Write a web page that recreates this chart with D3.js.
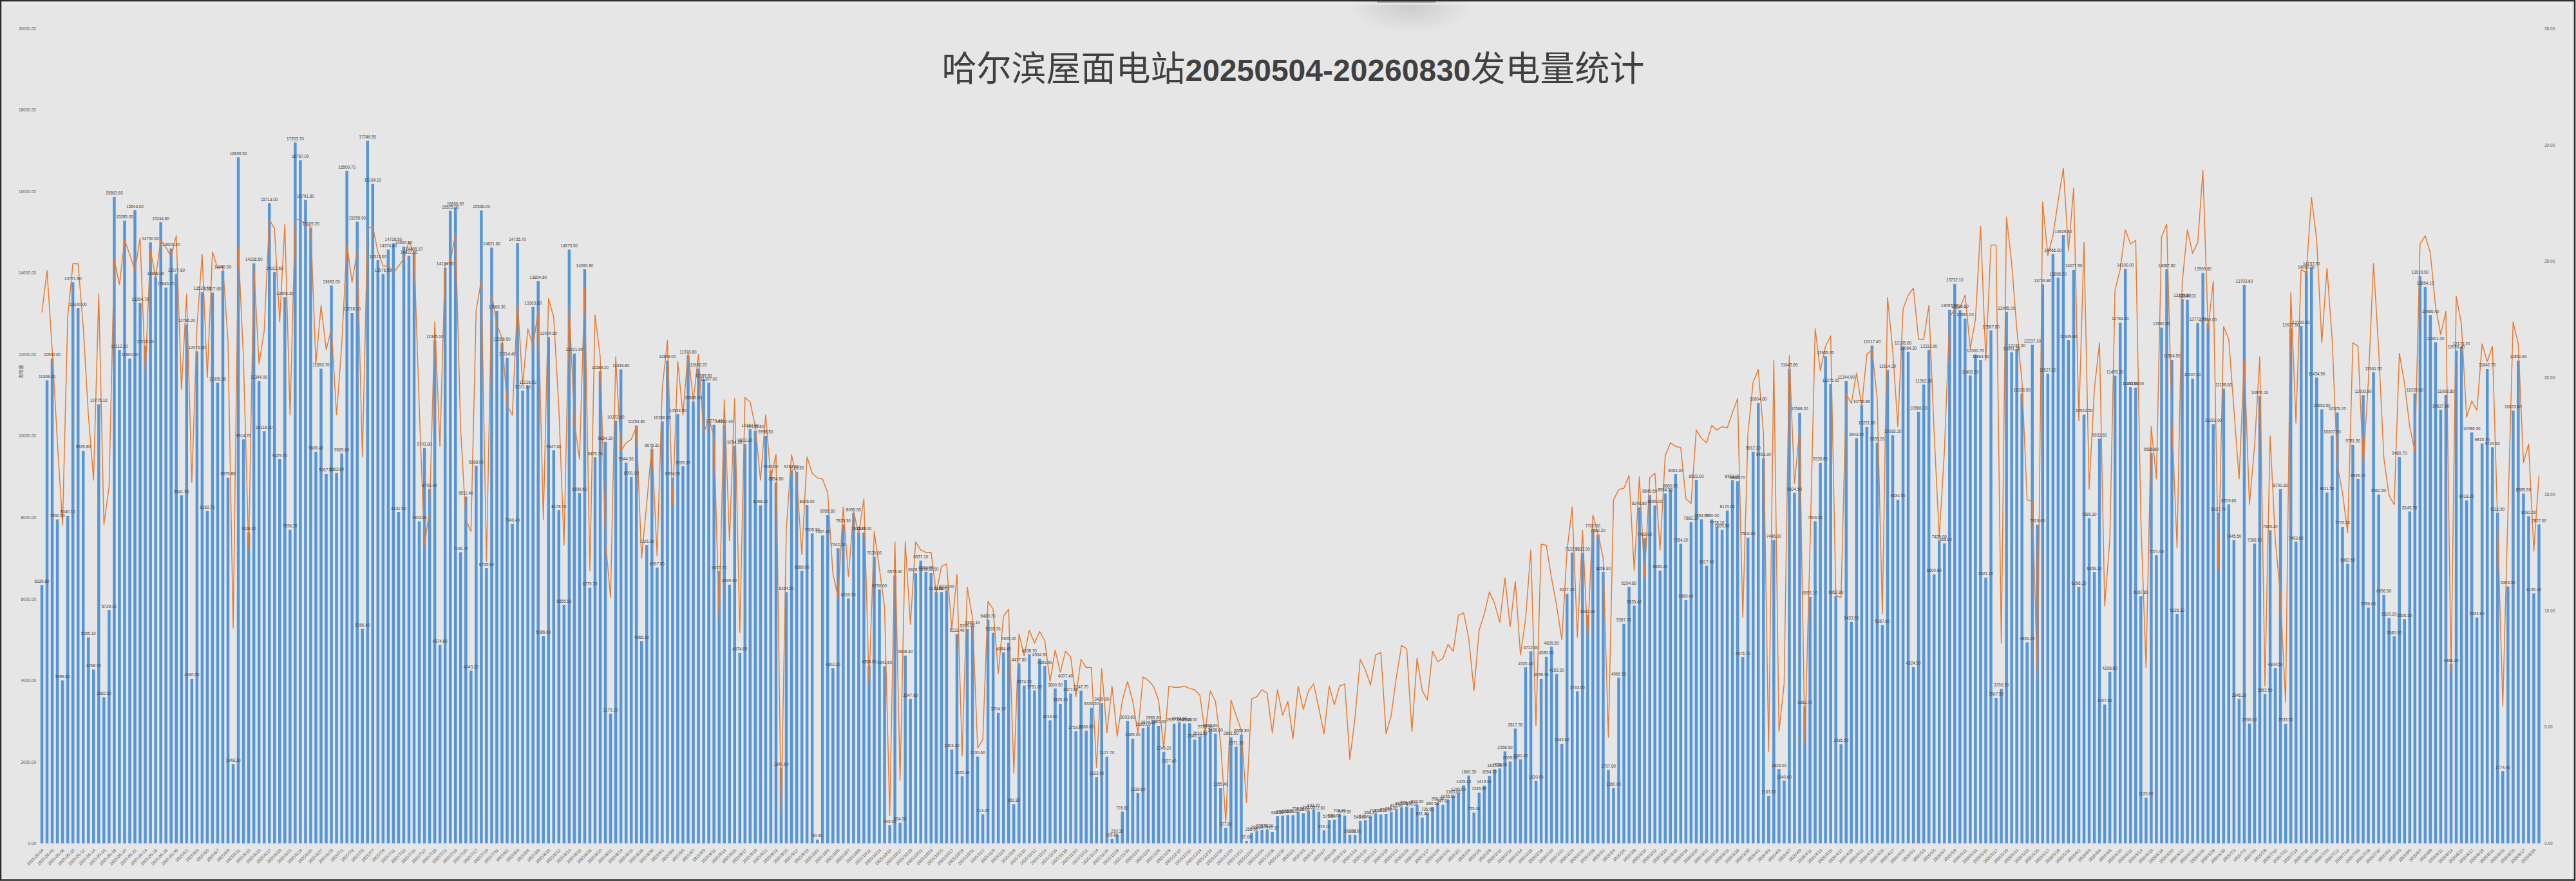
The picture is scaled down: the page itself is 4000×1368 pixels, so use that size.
<!DOCTYPE html>
<html>
<head>
<meta charset="utf-8">
<script src="https://cdnjs.cloudflare.com/ajax/libs/d3/7.8.5/d3.min.js"></script>
<style>
  html, body { margin: 0; padding: 0; background: #e6e6e6; }
  svg { display: block; }
</style>
</head>
<body>
<svg class="chart"></svg>
<script>
var titleParts = ["哈尔滨屋面电站", "20250504-20260830", "发电量统计"];
var axisName = "发电量";

var firstDay = new Date(2025, 4, 4);
var lastDay = new Date(2026, 7, 30);

var leftTicks = [0, 2000, 4000, 6000, 8000, 10000, 12000, 14000, 16000, 18000, 20000];
var rightTicks = [0, 5, 10, 15, 20, 25, 30, 35];

// daily output
var output = [
  6339.8,11368,11900,7950.5,3999.8,8040.1,13771.9,13140,9635.8,5055.1,
  4268.2,10775.1,3582.5,5729.1,15863.6,12112.1,15285,11900,15543,13264.7,
  12215,14750.6,13899,15244.8,13640.2,14600.2,13977.6,8541.5,12736.2,4040.5,
  12076.5,13524.7,8162.7,13517.6,11305.3,14049.9,8975.8,1948.2,16839.5,9914.7,
  7628.3,14236.5,11344.9,10118,15713,14022.6,9429.2,13406.3,7696.2,17203.7,
  16767,15791.8,15109.2,9608.4,11650.7,9067.5,13692,9093.6,9569.6,16509.7,
  13018.1,15255.9,5266.4,17246.5,16184.1,14313.6,13976.5,14574.4,14728.5,8131.5,
  14650,14422.9,14495.1,7903.6,9703.8,8701.4,12345.1,4874.6,14124.5,15525,
  15606.5,7146.7,8511.4,4243.2,9268,15536,6755.9,14621.6,13066.3,12286.5,
  11914.4,7840.4,14735.7,11111.8,11216.6,13163.8,13804.6,5086.6,12424.6,9647.6,
  8178.7,5855.5,14573.5,12021.9,8596.6,14090.8,6275.2,9475.7,11589.2,9854.3,
  3179.2,10372.6,11633.8,9344.3,8991,10254.8,4965.6,7326.3,9675.3,6767.5,
  10356.5,11849,8974,10533.5,9255.3,11970.8,10845.5,11650.2,11389.5,11307,
  10270.4,6677.7,10262.4,6349.6,9754.2,4674.6,9803.2,10167,10128.8,8298.2,
  9998.5,9149,8854.8,1847.6,6164.5,9157.1,9118.5,6688,8306,7608.3,
  90.3,7557.4,8056.6,4302.2,7242.2,7825.3,6010.3,8099,7635,7631,
  4358,7035,6230,4343.6,445,6573.4,504,4608.3,3547.6,6628.7,
  6937.1,6664.6,6632.9,6170.6,6168.4,6210,2303.3,5132.4,1645.3,5255.9,
  5330.1,2130.6,713.2,5489.7,5165.7,3204.1,4684.4,4926,961.8,4417.8,
  3874.2,4638.7,3751.6,4534.5,4353.9,3019.6,3800.5,3425.2,4007.4,3677.6,
  2753.9,3747.7,2766,3330.5,1623.5,3439,2127.7,105.6,210.3,776.6,
  3003.6,2569.3,1239.6,2829,2874,2985.6,2885,2245.2,1927.4,2937,
  2973,2940,2945,2545.1,2610.5,2773.3,2805.6,2688.6,1355.4,377.8,
  2601.5,2371.3,2669.8,57.6,258.9,298,325,330,277.1,668.5,
  680,690,690,758,738,795,833.7,772.6,319.1,575.9,
  580,708.7,679.3,208,208,548.6,570,656.3,718,710,
  720,765,832,885,900,870,933.5,631.4,735.5,890.5,
  990,947,1056.5,1163,1240.5,1425.4,1660.3,755,1245.9,1419,
  1654.3,1817,1838,2258.5,2009,2817.3,2061.4,4320.4,4712.6,1530,
  4039.7,4580,4826.5,4153.3,2443.6,6127.2,7133.5,3733.5,7122,5602,
  7700,7582.2,6659.3,1797.8,1360,4066.5,5387.7,6294.8,5835.4,8246.8,
  7492,8549.5,8296,6695.4,8584.5,8680.5,9063.3,7354.2,5969.4,7882.3,
  8922,7953,6817,7950,7778.1,7695.5,8170,8918,8886.7,4575.7,
  7504.6,9612.2,10804.8,9453.3,1163,7446,1825,1540.6,11643.8,8604.5,
  10568,3362.7,6051.1,7906.5,9335.8,11955.2,11275,6062.8,2435.5,11344.9,
  5433.5,9943.5,10756.8,10221.6,12217.4,9835.2,5357.6,11614.2,10018.1,8434.5,
  12185.8,12064.3,4324.5,10586.2,11262.8,12113.9,6600.6,7425,7365,13097.5,
  13732.1,13086.8,12881,11483.5,12000.7,11863.5,6521.2,12587.8,3567.5,3790.1,
  13045,12051.2,12132.3,11038.5,4933.2,12237.1,7819.6,13724.8,11527,14466,
  13885.2,14929.8,12349.8,14077.5,6296.2,10524.5,7980.3,6659.1,9933.6,3407.8,
  4208.8,11478.3,12783.2,14100,11195,11185,6067.8,1120,9586.6,7071,
  12660.3,14087.8,11864.5,5635.3,13359.8,13340,11407.2,12772.7,13999.8,12760,
  10291,8107.7,11158.6,8319.6,7445.5,3546.2,13703.6,2939,7358.5,10976.1,
  3663.5,7685.2,4304.5,8700.3,2933.5,12637.5,7403.6,12700.9,14052,14137.5,
  11434.9,10653.5,8611.5,10007.5,10576.2,7770.2,6862.5,9781.5,8939.1,11000.9,
  5786.6,11561.5,8562.5,6096.5,5529.2,5080.5,9480.7,5506.5,8145.3,11039.6,
  13919.9,13654.1,12966.4,12301,10637.5,11008.8,4398.2,12095.4,12176.2,8418.2,
  10086.3,5544.6,9815.7,11642.7,9724.6,8111.5,1774.4,6305.5,10623.8,11850.9,
  8585.5,8031.6,6135.4,7827.6
];

// second series, right hand axis
var secondSeries = [
  22.8,24.6,21.2,17.25,13.66,22.6,24.9,24.9,22.2,18.4,
  15.6,23.6,13.7,15.3,25.1,24,25.9,25.3,24.6,26,
  20.2,25.5,24.3,25.9,25.6,25.2,26.1,19.5,23.6,15.5,
  22.2,25.3,20,25.4,24.7,24.8,21.6,9.25,25.6,20.8,
  12.6,24.8,20.6,22,26.8,26.4,22.4,26.6,18.4,26.8,
  26.8,26.6,26.5,20.6,23.1,21.2,22.1,18.4,21.4,25.75,
  24.1,25.45,16.6,26.4,26.5,25.4,24.8,24.8,24.5,24.8,
  25.1,25.85,25.35,18.7,12.8,14.3,22.4,17.05,24.9,24.95,
  26.2,17.8,13.9,13.4,22.9,24.2,12.1,23.6,22.3,21.7,
  18.8,18.4,23.3,19.7,22.1,21.35,22.9,13.9,23.4,22.6,
  18.7,12.8,23.15,18.1,16.5,23.9,11.7,22.7,20.9,13,
  10.55,20.9,16.85,17.2,17.35,17.9,12.25,14.6,17.1,12.35,
  19.55,21.6,14.5,20.7,18.4,21.1,19,21,17.6,18.25,
  17.5,9.65,19.05,13,19.1,9.05,19.15,18.95,17.9,15.6,
  18.4,15.7,16.7,1.3,13.5,16.7,15.7,12.4,16.6,15.9,
  15.7,15.65,15.05,11.6,10.55,14.45,11.45,14.25,13.3,14.8,
  6.85,13.4,11.8,10.15,1.2,12.95,2.7,12.95,9.4,12.95,
  12.6,12.5,12.5,10.75,11.9,12,9.2,11.55,3.75,11,
  9.7,4.1,4.45,10.4,10.05,7.3,9.75,10.05,3,9,
  8.05,9.15,8.6,9.1,8.7,6.95,8.3,7.35,8.25,8,
  6.3,7.9,7.55,7.55,3.25,7.5,4.75,6.75,4.6,6.15,
  6.95,6.1,4.75,7.15,7,6.75,6.15,4.1,6.75,6.7,
  6.7,6.75,6.65,6.6,6.35,4.75,6.55,6.1,4.35,0.9,
  6.15,5.5,4.85,1.75,6.2,6.3,6.6,6.45,4.75,6.6,
  5.5,6.1,4.5,6.75,5.75,6.55,6.85,5.8,4.7,6.75,
  5.95,6.75,6.85,3.6,5.4,7.9,7.45,6.8,8.1,8.2,
  4.7,5.5,7.15,8.5,8.35,4.8,7.95,6.55,6.15,8.25,
  7.8,7.95,8.55,8.25,9.8,9.9,8.8,6.55,9.15,9.85,
  10.8,10.3,9.5,11.4,9.3,11.25,8.1,9.65,12.6,5.05,
  12.85,12.8,11.4,10.2,8.75,12.55,14.45,8.85,13.45,8.75,
  14.1,13.3,12.25,4.55,14.75,15.2,15.25,15.8,11.7,15.75,
  11.45,15.7,15.9,12.6,16.65,17.2,17.05,17,14.8,14.6,
  17.75,17.4,17.2,17.95,17.75,17.9,17.85,18.5,19.1,9.7,
  17.6,19.8,20.35,17.6,3.95,20.75,4.8,6.85,20.95,15.45,
  17.8,4.3,12.7,22.1,20.3,21.35,21.8,10.65,10.55,19.3,
  18.9,20.2,18.8,21,21.2,19.1,9.85,23.45,21.2,17.9,
  22.95,23.55,23.85,21.65,21.65,23.1,17.7,13.15,16.85,22.6,
  22.95,23,23.55,21.25,22.5,26.5,20.75,25.7,25.7,8.6,
  26.9,24.95,22.1,19.85,14.75,14.7,7,27.55,25.25,26.1,
  27.6,29,25.45,28.15,18.15,25.8,15.2,19.5,21.5,10.2,
  13.05,23.75,24.65,26.35,25.75,25.9,13.9,7.55,17.9,15.65,
  26.05,26.6,18.15,12.7,24.1,26.35,25.35,25.8,28.9,22.1,
  24.15,11.75,22.2,21.65,18.65,15.65,20.75,14.55,17.1,20.9,
  6.75,17.5,13.05,10.6,6.05,23.65,18.05,24.65,24.5,27.75,
  25.95,21.5,24.7,21.65,16.25,15.05,13.35,21.5,21.35,16.25,
  19.85,24.9,21.2,16.55,14.95,14.55,21.05,19.75,17.9,16.85,
  25.75,26.1,25.35,23.05,21.85,22.85,7.3,23.5,22.3,18.3,
  19,18.6,21.45,20.7,21.35,13.8,5.9,14.2,22.4,21.45,
  16.35,17.15,12.55,15.8
];

var drawChart = function()
{
  var screen = { //the size of svg
    width: 4000,
    height: 1368
  }

  var margins = {
    left: 61,
    right: 53.5,
    top: 44.3,
    bottom: 58.5
  }

  var days = d3.timeDay.range(firstDay, d3.timeDay.offset(lastDay, 1));

  var xScale = d3.scaleBand()
                 .domain(days)
                 .range([margins.left, screen.width - margins.right])
                 .paddingInner(0.44)
                 .paddingOuter(0.22);

  var yLeft = d3.scaleLinear()
                .domain([0, 20000])
                .range([screen.height - margins.bottom, margins.top]);

  var yRight = d3.scaleLinear()
                 .domain([0, 35])
                 .range([screen.height - margins.bottom, margins.top]);

  var svg = d3.select(".chart")
              .attr("width", screen.width)
              .attr("height", screen.height)
              .style("font-family", "'Liberation Sans', sans-serif");

  //background and the frame of the screenshot
  svg.append("rect")
     .attr("width", screen.width)
     .attr("height", screen.height)
     .attr("fill", "#e6e6e6");

  var defs = svg.append("defs");
  var blob = defs.append("radialGradient").attr("id", "blob");
  blob.append("stop").attr("offset", "0%").attr("stop-color", "#cbcbcb");
  blob.append("stop").attr("offset", "55%").attr("stop-color", "#dadada");
  blob.append("stop").attr("offset", "100%").attr("stop-color", "#e6e6e6");

  svg.append("ellipse")
     .attr("cx", 2190)
     .attr("cy", 8)
     .attr("rx", 96)
     .attr("ry", 44)
     .attr("fill", "url(#blob)");

  svg.append("rect")
     .attr("x", 2138)
     .attr("y", 0)
     .attr("width", 91)
     .attr("height", 4)
     .attr("fill", "#9a9a9a");

  svg.append("rect")
     .attr("x", 3)
     .attr("y", 6)
     .attr("width", 3989)
     .attr("height", 1358)
     .attr("fill", "none")
     .attr("stroke", "#f0f0f0")
     .attr("stroke-width", 1.5);

  svg.append("rect")
     .attr("x", 1)
     .attr("y", 1)
     .attr("width", 3997)
     .attr("height", 1365.5)
     .attr("fill", "none")
     .attr("stroke", "#2b2b2b")
     .attr("stroke-width", 2.5);

  //title
  var title = svg.append("text")
                 .attr("x", 2008)
                 .attr("y", 126)
                 .attr("text-anchor", "middle")
                 .attr("fill", "#404040");

  title.selectAll("tspan")
       .data(titleParts)
       .enter()
       .append("tspan")
       .text(function(d) {return d;})
       .style("font-family", function(d, i) {
         return i == 1 ? "'Liberation Sans'" : "'Noto Sans CJK SC'";
       })
       .style("font-weight", function(d, i) {return i == 1 ? 700 : 400;})
       .style("font-size", function(d, i) {return i == 1 ? "48px" : "54px";});

  //bars
  svg.append("g")
     .classed("bars", true)
     .selectAll("rect")
     .data(output)
     .enter()
     .append("rect")
     .attr("x", function(d, i) {return xScale(days[i]);})
     .attr("y", function(d) {return yLeft(d);})
     .attr("width", xScale.bandwidth())
     .attr("height", function(d) {return yLeft(0) - yLeft(d);})
     .attr("fill", "#5596d8");

  //second series
  var line = d3.line()
               .x(function(d, i) {return xScale(days[i]) + xScale.bandwidth() / 2;})
               .y(function(d) {return yRight(d);});

  svg.append("path")
     .datum(secondSeries)
     .attr("d", line)
     .attr("fill", "none")
     .attr("stroke", "#ea7a2e")
     .attr("stroke-width", 1.5)
     .attr("stroke-linejoin", "round");

  //labels on top of the bars
  svg.append("g")
     .classed("textAbove", true)
     .selectAll("text")
     .data(output)
     .enter()
     .append("text")
     .attr("x", function(d, i) {return xScale(days[i]) + xScale.bandwidth() / 2;})
     .attr("y", function(d) {return yLeft(d) - 3.5;})
     .attr("text-anchor", "middle")
     .attr("font-size", 6.4)
     .attr("fill", "#404040")
     .text(function(d) {return d.toFixed(2);});

  //axes
  var leftAxis = d3.axisLeft(yLeft)
                   .tickValues(leftTicks)
                   .tickFormat(function(d) {return d.toFixed(2);})
                   .tickSize(0)
                   .tickPadding(0);

  var rightAxis = d3.axisRight(yRight)
                    .tickValues(rightTicks)
                    .tickFormat(function(d) {return d.toFixed(2);})
                    .tickSize(0)
                    .tickPadding(0);

  var everyOther = days.filter(function(d, i) {return i % 2 == 0;});

  var bottomAxis = d3.axisBottom(xScale)
                     .tickValues(everyOther)
                     .tickFormat(function(d) {
                       //May was typed in another format in the source sheet
                       return d < new Date(2025, 5, 1) ? d3.timeFormat("%Y-%m-%d")(d)
                                                       : d3.timeFormat("%Y/%-m/%-d")(d);
                     })
                     .tickSize(0);

  svg.append("g")
     .classed("yAxis", true)
     .attr("transform", "translate(56,0)")
     .call(leftAxis);

  svg.append("g")
     .classed("yAxisRight", true)
     .attr("transform", "translate(3951,0)")
     .call(rightAxis);

  var xAxis = svg.append("g")
                 .classed("xAxis", true)
                 .attr("transform", "translate(0," + yLeft(0) + ")")
                 .call(bottomAxis);

  xAxis.selectAll("text")
       .attr("text-anchor", "end")
       .attr("dy", 0)
       .attr("transform", function() {return "translate(1,9) rotate(-45)";});

  svg.selectAll(".domain").remove();

  svg.selectAll(".yAxis text, .yAxisRight text, .xAxis text")
     .attr("font-size", 6.5)
     .attr("font-family", "'Liberation Sans', sans-serif")
     .attr("fill", "#595959");

  //small name of the left axis
  svg.append("text")
     .attr("transform", "translate(35,577) rotate(-90)")
     .attr("text-anchor", "middle")
     .attr("font-size", 7)
     .attr("font-family", "'Noto Sans CJK SC'")
     .attr("fill", "#595959")
     .text(axisName);
}

drawChart();
</script>
</body>
</html>
